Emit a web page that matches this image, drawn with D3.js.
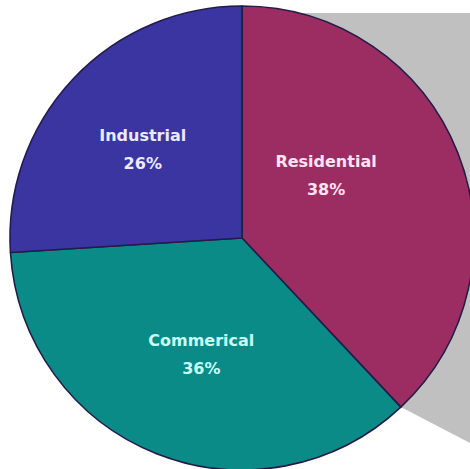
<!DOCTYPE html>
<html>
<head>
<meta charset="utf-8">
<script src="https://cdn.jsdelivr.net/npm/d3@7"></script>
<style>
  html, body { margin: 0; padding: 0; background: #fff; }
  svg { display: block; }
</style>
</head>
<body>
<svg id="chart"></svg>
<script>
const categories = ["Residential", "Commerical", "Industrial"];
const shares = [38, 36, 26];

const colors = ["#9c2d63", "#0b8b87", "#3a35a1"];
const textColors = ["#ffe4f2", "#c9fff6", "#eceaff"];

const w = 470;
const h = 469;
const cx = 242;
const cy = 238;
const r = 232;

// label nudges (radius factor, angle shift in degrees) tuned to the picture
const labelPlace = {
  Residential: { k: 0.44, da: -13 },
  Commerical: { k: 0.55, da: -3 },
  Industrial: { k: 0.56, da: -3 },
};

const svg = d3.select("#chart").attr("width", w).attr("height", h);

const pie = d3
  .pie()
  .sort(null)
  .value((d) => d.value);

const arcs = pie(categories.map((c, i) => ({ name: c, value: shares[i] })));

const arc = d3.arc().innerRadius(0).outerRadius(r);

// point on the rim at a pie angle (clockwise from 12 o'clock)
const rim = (a, rad) => [cx + rad * Math.sin(a), cy - rad * Math.cos(a)];

// grey callout band running off to the right
const upper = rim(0, r);
const lower = rim(arcs[0].endAngle, r);
const slope = 0.52;
const band = [
  [cx, cy],
  [cx, upper[1] + 7],
  [w, upper[1] + 7],
  [w, lower[1] + (w - lower[0]) * slope],
  lower,
];
svg
  .append("polygon")
  .attr("points", band.map((p) => p.join(",")).join(" "))
  .attr("fill", "#c0c0c0");

const g = svg.append("g").attr("transform", `translate(${cx},${cy})`);

g.selectAll("path")
  .data(arcs)
  .enter()
  .append("path")
  .attr("d", arc)
  .attr("fill", (d, i) => colors[i])
  .attr("stroke", "#241c48")
  .attr("stroke-width", 1.6)
  .attr("stroke-linejoin", "round");

svg
  .selectAll("text.lbl")
  .data(arcs)
  .enter()
  .append("text")
  .attr("class", "lbl")
  .attr("text-anchor", "middle")
  .style("font-family", "'DejaVu Sans', Verdana, sans-serif")
  .style("font-weight", "bold")
  .style("font-size", "16px")
  .attr("fill", (d, i) => textColors[i])
  .each(function (d) {
    const p = labelPlace[d.data.name];
    const a = (d.startAngle + d.endAngle) / 2 + (p.da * Math.PI) / 180;
    const [x, y] = rim(a, r * p.k);
    const t = d3.select(this);
    t.append("tspan").attr("x", x).attr("y", y - 13).text(d.data.name);
    t.append("tspan")
      .attr("x", x)
      .attr("y", y + 15)
      .text(d.data.value + "%");
  });
</script>
</body>
</html>
